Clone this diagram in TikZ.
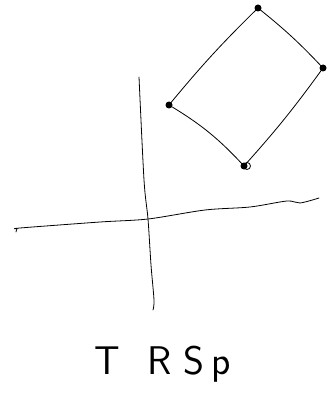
\documentclass[tikz,border=0pt]{standalone}
\usepackage{fontspec}
\usepackage{tikz}
\usetikzlibrary{calc}

\tikzset{
	pen/.style={line width=0.8pt, line cap=round, line join=round},
	blob/.style={circle, fill=black, inner sep=0pt, minimum size=7pt}
}

\begin{document}
\begin{tikzpicture}[x=1pt,y=-1pt]
	\useasboundingbox (0,0) rectangle (331,398);
	% corners of the tilted square
	\node[blob] (top) at (258,8) {};
	\node[blob] (rgt) at (323,68) {};
	\node[blob] (bot) at (244,166) {};
	\node[blob] (lft) at (169,105) {};
	\draw[pen] (top.center) to[bend left=4] (rgt.center);
	\draw[pen] (rgt.center) to[bend left=3] (bot.center);
	\draw[pen] (bot.center) to[bend right=8] (lft.center);
	\draw[pen] (lft.center) to[bend left=3] (top.center);
	\draw[pen] (bot.center) ++(3,0) circle (3.5);
	% axes
	\coordinate (o) at (148,219);
	\coordinate (ytop) at (139,77);
	\coordinate (ybot) at (153,310);
	\coordinate (xlft) at (20,228);
	\coordinate (xrgt) at (319,198);
	\draw[pen] plot[smooth] coordinates {(ytop) (144,180) (o) (151,265) (154,300) (ybot)};
	\draw[pen] plot[smooth] coordinates {(16,232) (17,229) (xlft) (100,222) (o) (205,210) (250,207) (287,201) (300,203) (xrgt)};
	% label
	\node[font=\fontsize{40}{40}\selectfont\sffamily] (lbl) at (163,364) {T\kern27pt R\kern12pt S\kern7pt p};
\end{tikzpicture}
\end{document}
